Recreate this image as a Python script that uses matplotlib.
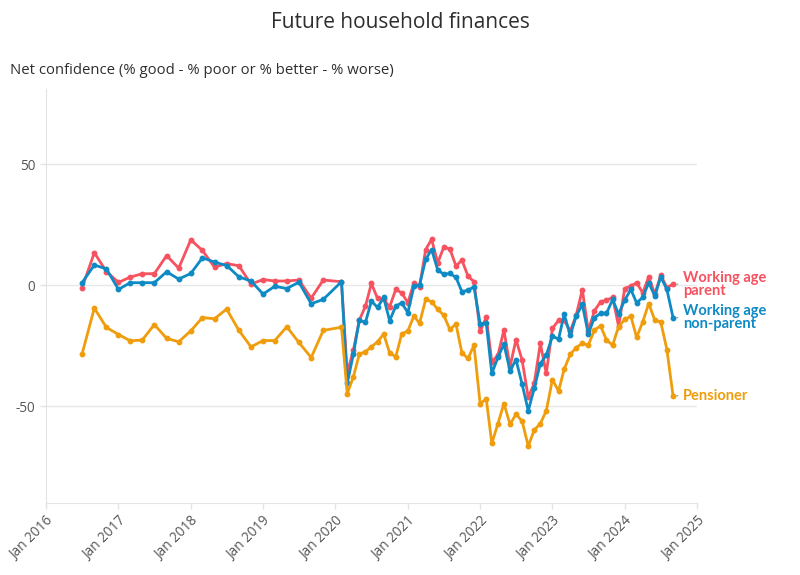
import numpy as np
import pandas as pd
import matplotlib
matplotlib.use('Agg')
import matplotlib.pyplot as plt
import matplotlib.dates as mdates

# survey dates: every 2 months to Nov 2019, then Feb 2020, then monthly
dates = list(pd.date_range('2016-07-01', '2019-11-01', freq='2MS')) + \
        [pd.Timestamp('2020-02-01')] + \
        list(pd.date_range('2020-03-01', '2024-09-01', freq='MS'))

parent = [-1.1, 13.4, 5.6, 1.1, 3.3, 4.7, 4.7, 12.2, 7.0, 18.7, 14.3, 7.4, 8.9, 8.0, 0.4,
          2.3, 1.7, 1.7, 2.1, -5.4, 2.1, 1.4,
          -36.2, -26.9, -14.5, -8.7, 0.7, -5.5, -5.9, -9.0, -1.8, -3.2,
          -7.3, 1.0, -0.7, 14.7, 18.9, 9.2, 15.6, 15.0, 7.9, 10.3, 3.7, 1.4,
          -19.1, -13.2, -31.7, -28.9, -18.6, -33.7, -22.5, -31.0, -46.4, -40.6, -24.1, -36.5,
          -17.9, -14.5, -14.5, -19.0, -12.4, -1.9, -18.9, -10.6, -6.9, -6.2, -5.1, -16.9,
          -1.4, -0.4, 1.0, -3.2, 3.4, -3.7, 4.1, -1.0, 0.4]

non_parent = [1.0, 8.3, 6.7, -1.8, 1.0, 1.0, 1.0, 5.5, 2.5, 4.8, 11.3, 9.5, 8.1, 3.4, 1.7,
              -3.7, -0.5, -1.4, 1.2, -7.7, -5.9, 1.4,
              -40.6, -28.5, -14.5, -15.4, -6.6, -9.2, -5.1, -14.7, -8.7, -7.3,
              -11.4, -0.4, 0.0, 10.6, 14.7, 6.2, 4.5, 4.8, 3.2, -2.7, -2.1, -0.7,
              -16.0, -15.7, -36.5, -29.8, -24.4, -35.4, -30.8, -40.9, -51.9, -42.7, -32.4, -28.9,
              -21.1, -22.3, -12.1, -20.7, -12.8, -8.0, -20.2, -13.4, -11.7, -11.7, -5.9, -12.0,
              -6.2, -1.8, -7.3, -5.1, 1.0, -4.5, 3.4, -1.8, -13.4]

pensioner = [-28.5, -9.5, -17.5, -20.4, -23.0, -22.7, -16.3, -22.0, -23.4, -18.9, -13.4, -13.9,
             -9.9, -18.7, -25.5, -22.9, -22.9, -17.2, -23.7, -29.9, -18.7, -17.4,
             -44.8, -37.9, -28.5, -27.5, -25.5, -23.4, -20.2, -28.0, -29.6, -20.2,
             -18.9, -12.7, -15.8, -5.9, -6.9, -10.0, -12.4, -18.3, -16.1, -28.0, -30.3, -24.8,
             -49.0, -47.0, -65.4, -57.2, -48.9, -57.5, -53.3, -56.2, -66.5, -59.9, -57.2, -51.9,
             -39.0, -43.8, -34.8, -28.6, -25.8, -24.1, -24.8, -18.6, -16.8, -22.7, -24.8, -17.2,
             -14.2, -12.8, -21.6, -15.2, -7.6, -14.5, -15.2, -26.6, -45.7]

labels = ['Working age\nparent', 'Working age\nnon-parent', 'Pensioner']
colors = ['#f7525f', '#0e8ac4', '#ef9d0c']
series = [parent, non_parent, pensioner]

year_ticks = pd.date_range('2016-01-01', '2025-01-01', freq='YS')
y_ticks = [-50, 0, 50]

plt.rcParams['font.family'] = ['Open Sans', 'DejaVu Sans']

fig = plt.figure(figsize=(8, 5.75), dpi=100)
ax = fig.add_axes([0.0575, 0.1252, 0.814, 0.72])

for vals, col in zip(series, colors):
    ax.plot(dates, vals, '-o', color=col, lw=2, markersize=3.2, zorder=3)

for vals, col, lab in zip(series, colors, labels):
    ax.annotate(lab, xy=(dates[-1], vals[-1]), xytext=(10.3, 0), textcoords='offset pixels',
                va='center', ha='left', color=col, fontsize=10.5, family='Lato',
                fontweight='bold', linespacing=0.92,
                arrowprops=dict(arrowstyle='-', color='#9a9a9a', lw=0.9,
                                shrinkA=2.0, shrinkB=2.7))

ax.set_xlim(pd.Timestamp('2016-01-01'), pd.Timestamp('2025-01-01'))
ax.set_ylim(-90, 81)
ax.set_xticks(year_ticks)
ax.set_xticklabels([d.strftime('Jan %Y') for d in year_ticks], rotation=45,
                   ha='right', va='top', rotation_mode='anchor')
ax.set_yticks(y_ticks)
ax.set_yticklabels([str(v) for v in y_ticks])
ax.tick_params(axis='both', colors='#e3e3e3', labelcolor='#555555', labelsize=9.8,
               length=4.5, width=1)
ax.tick_params(axis='x', pad=3)
ax.tick_params(axis='y', pad=3)

ax.grid(axis='y', color='#e8e8e8', lw=1)
ax.set_axisbelow(True)
for s in ['top', 'right']:
    ax.spines[s].set_visible(False)
for s in ['left', 'bottom']:
    ax.spines[s].set_color('#e3e3e3')

fig.text(0.5, 0.961, 'Future household finances', ha='center', va='center',
         fontsize=15, color='#2e2e2e')
fig.text(0.0125, 0.877, 'Net confidence (% good - % poor or % better - % worse)',
         ha='left', va='center', fontsize=10.7, color='#2e2e2e')

fig.savefig('out.png', dpi=100)
